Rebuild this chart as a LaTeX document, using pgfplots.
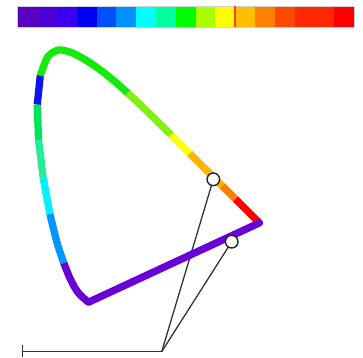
\documentclass[border=0pt]{standalone}
\usepackage{pgfplots}
\pgfplotsset{compat=1.18}

% colour bar slots
\definecolor{bA}{RGB}{90,0,192}
\definecolor{bB}{RGB}{78,0,216}
\definecolor{bC}{RGB}{58,0,240}
\definecolor{bD}{RGB}{0,0,255}
\definecolor{bE}{RGB}{0,80,255}
\definecolor{bF}{RGB}{0,144,255}
\definecolor{bG}{RGB}{0,255,255}
\definecolor{bH}{RGB}{0,255,160}
\definecolor{bI}{RGB}{0,255,0}
\definecolor{bJ}{RGB}{170,255,0}
\definecolor{bK}{RGB}{255,255,0}
\definecolor{bL}{RGB}{255,190,0}
\definecolor{bM}{RGB}{255,128,0}
\definecolor{bN}{RGB}{255,72,0}
\definecolor{bO}{RGB}{255,40,0}
\definecolor{bP}{RGB}{255,0,0}
\definecolor{bmark}{RGB}{255,64,32}
% locus segments
\definecolor{lPurple}{RGB}{105,0,215}
\definecolor{lAzure}{RGB}{0,150,255}
\definecolor{lCyan}{RGB}{0,240,255}
\definecolor{lMint}{RGB}{40,235,150}
\definecolor{lSea}{RGB}{0,228,90}
\definecolor{lBlue}{RGB}{10,20,240}
\definecolor{lGreen}{RGB}{20,235,10}
\definecolor{lLime}{RGB}{130,240,20}
\definecolor{lYellow}{RGB}{255,255,0}
\definecolor{lOrange}{RGB}{255,180,0}
\definecolor{lDark}{RGB}{255,128,0}
\definecolor{lRed}{RGB}{255,0,0}

\begin{document}
\begin{tikzpicture}
% --- colour bar (one slot per unit) ---
\begin{axis}[
  scale only axis, width=363bp, height=358bp,
  xmin=-0.884, xmax=17.457, ymin=-15.526, ymax=1.2817,
  axis line style={draw=none}, ticks=none, clip=false,
]
\addplot[fill=bA, draw=none] coordinates {(0,0) (1,0) (1,1) (0,1)} -- cycle;
\addplot[fill=bB, draw=none] coordinates {(1,0) (2,0) (2,1) (1,1)} -- cycle;
\addplot[fill=bC, draw=none] coordinates {(2,0) (3,0) (3,1) (2,1)} -- cycle;
\addplot[fill=bD, draw=none] coordinates {(3,0) (4,0) (4,1) (3,1)} -- cycle;
\addplot[fill=bE, draw=none] coordinates {(4,0) (5,0) (5,1) (4,1)} -- cycle;
\addplot[fill=bF, draw=none] coordinates {(5,0) (6,0) (6,1) (5,1)} -- cycle;
\addplot[fill=bG, draw=none] coordinates {(6,0) (7,0) (7,1) (6,1)} -- cycle;
\addplot[fill=bH, draw=none] coordinates {(7,0) (8,0) (8,1) (7,1)} -- cycle;
\addplot[fill=bI, draw=none] coordinates {(8,0) (9,0) (9,1) (8,1)} -- cycle;
\addplot[fill=bJ, draw=none] coordinates {(9,0) (10,0) (10,1) (9,1)} -- cycle;
\addplot[fill=bK, draw=none] coordinates {(10,0) (11,0) (11,1) (10,1)} -- cycle;
\addplot[fill=bL, draw=none] coordinates {(11,0) (12,0) (12,1) (11,1)} -- cycle;
\addplot[fill=bM, draw=none] coordinates {(12,0) (13,0) (13,1) (12,1)} -- cycle;
\addplot[fill=bN, draw=none] coordinates {(13,0) (14,0) (14,1) (13,1)} -- cycle;
\addplot[fill=bO, draw=none] coordinates {(14,0) (16,0) (16,1) (14,1)} -- cycle;
\addplot[fill=bP, draw=none] coordinates {(16,0) (17,0) (17,1) (16,1)} -- cycle;
\addplot[draw=gray!35, line width=0.8bp] coordinates {(0,0) (17,0) (17,1) (0,1)} -- cycle;
\addplot[draw=bmark, line width=1.8bp] coordinates {(11,0) (11,1)};
\end{axis}

% --- chromaticity diagram (CIE x,y) ---
\begin{axis}[
  scale only axis, width=363bp, height=358bp,
  xmin=-0.1187, xmax=1.0754, ymin=-0.1792, ymax=0.9984,
  axis line style={draw=none}, ticks=none, clip=false,
  every axis plot/.append style={line width=7.3bp, line join=round, line cap=butt},
]
% pointer lines
\addplot[black!80, line width=1.3bp] coordinates {(-0.0453,-0.1585) (0.4132,-0.1585)};
\addplot[black!80, line width=1.3bp] coordinates {(-0.0453,-0.1364) (-0.0453,-0.1769)};
\addplot[black!80, line width=1.3bp] coordinates {(0.4132,-0.1585) (0.5830,0.4086)};
\addplot[black!80, line width=1.3bp] coordinates {(0.4132,-0.1585) (0.6435,0.2034)};

% 607-700 nm
\addplot[lRed, smooth] coordinates {(0.6552,0.3444) (0.6658,0.3340) (0.6801,0.3197)
  (0.6915,0.3083) (0.7006,0.2993) (0.7079,0.2920) (0.7140,0.2859) (0.7190,0.2809)
  (0.7230,0.2770) (0.7260,0.2740) (0.7300,0.2700) (0.7320,0.2680) (0.7347,0.2653)};
% 480-380 nm and purple line
\addplot[lPurple, line cap=round] coordinates {(0.0913,0.1327) (0.1096,0.0868)
  (0.1241,0.0578) (0.1355,0.0399) (0.1440,0.0297) (0.1510,0.0227) (0.1566,0.0177)
  (0.1611,0.0138) (0.1644,0.0109) (0.1669,0.0086) (0.1689,0.0069) (0.1703,0.0058)
  (0.1714,0.0051) (0.1726,0.0048) (0.1741,0.0050) (0.7347,0.2653)};
% 480-490
\addplot[lAzure, smooth] coordinates {(0.0913,0.1327) (0.0687,0.2007) (0.0454,0.2950)};
% 490-495
\addplot[lCyan] coordinates {(0.0454,0.2950) (0.0235,0.4127)};
% 495-500
\addplot[lMint] coordinates {(0.0235,0.4127) (0.0082,0.5384)};
% 500-505
\addplot[lSea] coordinates {(0.0082,0.5384) (0.0039,0.6548)};
% 505-510
\addplot[lBlue] coordinates {(0.0039,0.6548) (0.0139,0.7502)};
% 510-550
\addplot[lGreen, smooth] coordinates {(0.0139,0.7502) (0.0389,0.8120) (0.0743,0.8338)
  (0.1142,0.8262) (0.1547,0.8059) (0.1929,0.7816) (0.2296,0.7543) (0.2658,0.7243)
  (0.3016,0.6923)};
% 550-570
\addplot[lLime, smooth] coordinates {(0.3016,0.6923) (0.3373,0.6589) (0.3731,0.6245)
  (0.4087,0.5896) (0.4441,0.5547)};
% 570-579
\addplot[lYellow] coordinates {(0.4441,0.5547) (0.4788,0.5202) (0.5058,0.4933)};
% 579-597
\addplot[lOrange, smooth] coordinates {(0.5058,0.4933) (0.5125,0.4866) (0.5448,0.4544)
  (0.5752,0.4242) (0.6029,0.3965) (0.6125,0.3869)};
% 597-607
\addplot[lDark] coordinates {(0.6125,0.3869) (0.6270,0.3725) (0.6482,0.3514) (0.6552,0.3444)};

% marked points
\addplot[only marks, mark=*, mark size=6.3bp,
  mark options={fill=white, draw=black!85, line width=1.4bp}]
  coordinates {(0.5830,0.4086) (0.6435,0.2034)};
\end{axis}
\end{tikzpicture}
\end{document}
